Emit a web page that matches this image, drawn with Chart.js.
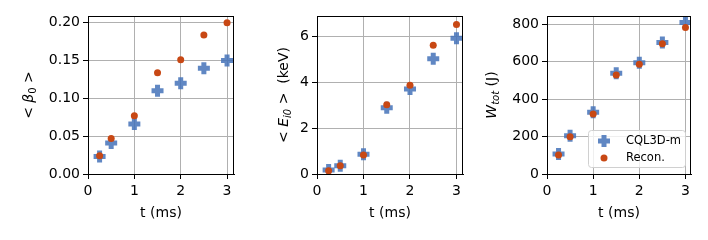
<!DOCTYPE html>
<html>
<head>
<meta charset="utf-8">
<script src="https://cdn.jsdelivr.net/npm/chart.js@4.4.0/dist/chart.umd.min.js"></script>
<style>
  body { margin: 0; background: #fff; }
  #wrap { position: relative; width: 708px; height: 240px; overflow: hidden; }
  #wrap canvas { position: absolute; top: 0; }
</style>
</head>
<body>
<div id="wrap">
  <canvas id="c1" width="260" height="240" style="left:0px"></canvas>
  <canvas id="c2" width="260" height="240" style="left:236px"></canvas>
  <canvas id="c3" width="260" height="240" style="left:472px"></canvas>
</div>
<script>
// time points (ms)
var times = [0.25, 0.5, 1, 1.5, 2, 2.5, 3];
var xTicks = [0, 1, 2, 3];

// <beta_0>
var betaCql = [0.023, 0.041, 0.066, 0.110, 0.120, 0.140, 0.150];
var betaRec = [0.024, 0.047, 0.077, 0.134, 0.151, 0.184, 0.200];
var betaTicks = [0, 0.05, 0.10, 0.15, 0.20];

// <E_i0> (keV)
var energyCql = [0.17, 0.36, 0.86, 2.88, 3.70, 5.01, 5.90];
var energyRec = [0.14, 0.36, 0.83, 3.01, 3.86, 5.60, 6.50];
var energyTicks = [0, 2, 4, 6];

// W_tot (J)
var wCql = [107, 204, 329, 537, 594, 702, 808];
var wRec = [101, 199, 320, 528, 585, 695, 782];
var wTicks = [0, 200, 400, 600, 800];

var seriesNames = ['CQL3D-m', 'Recon.'];

var BLUE = 'rgba(68, 114, 184, 0.85)';
var RED = 'rgb(200, 72, 20)';
var FONT = "'DejaVu Sans', sans-serif";

// black frame around the plot area
var framePlugin = {
  id: 'frame',
  afterDraw: function(chart) {
    var a = chart.chartArea, ctx = chart.ctx;
    ctx.save();
    ctx.strokeStyle = '#000';
    ctx.lineWidth = 1;
    ctx.strokeRect(Math.round(a.left) + 0.5, Math.round(a.top) + 0.5,
      Math.round(a.right - a.left) - 1, Math.round(a.bottom - a.top));
    ctx.restore();
  }
};

// rotated y title made of pieces: [text, italic, subscript]
function yTitlePlugin(parts, cx) {
  return {
    id: 'ytitle',
    afterDraw: function(chart) {
      var a = chart.chartArea, ctx = chart.ctx;
      var cy = (a.top + a.bottom) / 2;
      function fontFor(p) {
        return (p[1] ? 'italic ' : '') + (p[2] ? '10px ' : '14px ') + FONT;
      }
      ctx.save();
      var total = 0;
      parts.forEach(function(p) { ctx.font = fontFor(p); total += ctx.measureText(p[0]).width; });
      ctx.translate(cx, cy);
      ctx.rotate(-Math.PI / 2);
      ctx.fillStyle = '#000';
      ctx.textBaseline = 'alphabetic';
      var x = -total / 2;
      parts.forEach(function(p) {
        ctx.font = fontFor(p);
        ctx.fillText(p[0], x, p[2] ? 8 : 5);
        x += ctx.measureText(p[0]).width;
      });
      ctx.restore();
    }
  };
}

function drawPlus(ctx, x, y) {
  ctx.save();
  ctx.strokeStyle = BLUE;
  ctx.lineWidth = 5;
  ctx.beginPath();
  ctx.moveTo(x - 6, y); ctx.lineTo(x + 6, y);
  ctx.moveTo(x, y - 6); ctx.lineTo(x, y + 6);
  ctx.stroke();
  ctx.restore();
}

var legendPlugin = {
  id: 'innerLegend',
  afterDraw: function(chart) {
    var a = chart.chartArea, ctx = chart.ctx;
    var right = a.right - 6, bottom = a.bottom - 7;
    var w = 97, h = 37, left = right - w, top = bottom - h;
    ctx.save();
    ctx.fillStyle = 'rgba(255,255,255,0.8)';
    ctx.strokeStyle = '#d0d0d0';
    ctx.lineWidth = 1;
    ctx.beginPath();
    ctx.roundRect(left + 0.5, top + 0.5, w, h, 3);
    ctx.fill();
    ctx.stroke();
    drawPlus(ctx, left + 16, top + 11);
    ctx.fillStyle = RED;
    ctx.beginPath();
    ctx.arc(left + 16, top + 28, 3.5, 0, Math.PI * 2);
    ctx.fill();
    ctx.fillStyle = '#000';
    ctx.font = '11.5px ' + FONT;
    ctx.textBaseline = 'middle';
    ctx.fillText(chart.data.datasets[0].label, left + 38, top + 11);
    ctx.fillText(chart.data.datasets[1].label, left + 38, top + 28);
    ctx.restore();
  }
};

function makePanel(id, cql, rec, yTicks, decimals, yMax, yWidth, rightPad, xMax, titleParts, titleX, withLegend) {
  var plugins = [framePlugin, yTitlePlugin(titleParts, titleX)];
  if (withLegend) plugins.push(legendPlugin);
  return new Chart(document.getElementById(id), {
    type: 'scatter',
    data: {
      datasets: [{
        label: seriesNames[0],
        data: times.map(function(t, i) { return { x: t, y: cql[i] }; }),
        pointStyle: 'cross',
        pointRadius: 6,
        pointBorderWidth: 5,
        borderColor: BLUE,
        backgroundColor: BLUE,
        order: 2
      }, {
        label: seriesNames[1],
        data: times.map(function(t, i) { return { x: t, y: rec[i] }; }),
        pointStyle: 'circle',
        pointRadius: 3.5,
        pointBorderWidth: 0,
        borderColor: RED,
        backgroundColor: RED,
        order: 1
      }]
    },
    options: {
      responsive: false,
      animation: false,
      devicePixelRatio: 1,
      layout: { padding: { top: 16, right: rightPad, left: 0, bottom: 0 } },
      plugins: { legend: { display: false }, tooltip: { enabled: false } },
      scales: {
        x: {
          type: 'linear', min: 0, max: xMax,
          afterBuildTicks: function(s) { s.ticks = xTicks.map(function(v) { return { value: v }; }); },
          afterFit: function(s) { s.height = 66; },
          grid: { color: '#b0b0b0', lineWidth: 1, tickColor: '#000', tickLength: 5 },
          border: { color: '#000', width: 1 },
          ticks: { color: '#000', font: { size: 14, family: FONT }, padding: 4, maxRotation: 0,
            callback: function(v) { return String(v); } },
          title: { display: true, text: 't (ms)', color: '#000', font: { size: 14, family: FONT },
            padding: { top: 0, bottom: 18 } }
        },
        y: {
          type: 'linear', min: 0, max: yMax,
          afterBuildTicks: function(s) { s.ticks = yTicks.map(function(v) { return { value: v }; }); },
          afterFit: function(s) { s.width = yWidth; },
          grid: { color: '#b0b0b0', lineWidth: 1, tickColor: '#000', tickLength: 5 },
          border: { color: '#000', width: 1 },
          ticks: { color: '#000', font: { size: 14, family: FONT }, padding: 3,
            callback: function(v) { return v.toFixed(decimals); } }
        }
      }
    },
    plugins: plugins
  });
}

// canvases are 260 wide; right padding puts plot edges at 234, 463, 691
makePanel('c1', betaCql, betaRec, betaTicks, 2, 0.209, 88, 26, 3.15,
  [['< ', false, false], ['β', true, false], ['0', false, true], [' >', false, false]], 28, false);
makePanel('c2', energyCql, energyRec, energyTicks, 0, 6.87, 81, 33, 3.14,
  [['< ', false, false], ['E', true, false], ['i0', true, true], [' >  (keV)', false, false]], 47, false);
makePanel('c3', wCql, wRec, wTicks, 0, 843, 75, 41, 3.12,
  [['W', true, false], ['tot', true, true], [' (J)', false, false]], 19, true);
</script>
</body>
</html>
